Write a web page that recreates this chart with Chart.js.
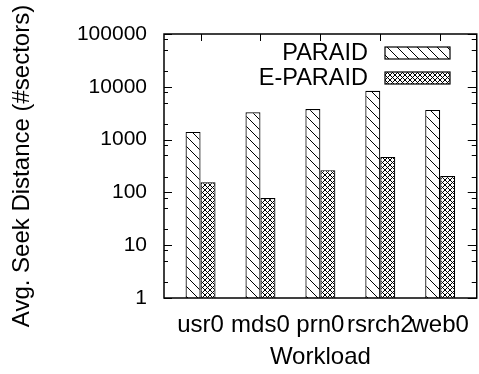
<!DOCTYPE html>
<html lang="en">
<head>
  <meta charset="UTF-8" />
  <title>Avg. Seek Distance per Workload</title>
  <script src="https://cdn.jsdelivr.net/npm/chart.js"></script>
  <style>
    html, body { margin: 0; padding: 0; background: #fff; overflow: hidden; }
    #wrap { width: 479px; height: 374px; overflow: hidden; }
    canvas { display: block; }
  </style>
</head>
<body>
  <div id="wrap"><canvas id="seekChart" width="482" height="374"></canvas></div>

  <script>
    // data
    const workloads = ['usr0', 'mds0', 'prn0', 'rsrch2', 'web0'];
    const paraid = [1400, 3300, 3780, 8400, 3650];
    const eparaid = [156, 78, 264, 470, 205];
    const yTicks = [1, 10, 100, 1000, 10000, 100000];
    const yMinor = [2, 5, 8];

    const FONT = "'Liberation Sans', Arial, Helvetica, sans-serif";

    // gnuplot-like fill patterns
    function hatchPattern() {
      const s = 10;
      const c = document.createElement('canvas');
      c.width = s; c.height = s;
      const g = c.getContext('2d');
      g.fillStyle = '#fff';
      g.fillRect(0, 0, s, s);
      g.strokeStyle = '#000';
      g.lineWidth = 1;
      g.beginPath();
      g.moveTo(-1, -1); g.lineTo(s + 1, s + 1);
      g.moveTo(s - 1, -1); g.lineTo(s + 1, 1);
      g.moveTo(-1, s - 1); g.lineTo(1, s + 1);
      g.stroke();
      return g.createPattern(c, 'repeat');
    }

    function crossPattern() {
      const s = 5;
      const c = document.createElement('canvas');
      c.width = s; c.height = s;
      const g = c.getContext('2d');
      g.fillStyle = '#fff';
      g.fillRect(0, 0, s, s);
      g.strokeStyle = '#000';
      g.lineWidth = 1;
      g.beginPath();
      g.moveTo(-1, -1); g.lineTo(s + 1, s + 1);
      g.moveTo(s + 1, -1); g.lineTo(-1, s + 1);
      g.stroke();
      return g.createPattern(c, 'repeat');
    }

    // frame, inward ticks and the legend
    const gnuplotFrame = {
      id: 'gnuplotFrame',
      afterDatasetsDraw(chart) {
        const { ctx, chartArea: a, scales: { x, y } } = chart;
        ctx.save();
        ctx.strokeStyle = '#000';
        ctx.lineWidth = 1;
        ctx.beginPath();
        yTicks.forEach((v, i) => {
          const py = Math.round(y.getPixelForValue(v)) + 0.5;
          ctx.moveTo(a.left, py); ctx.lineTo(a.left + 8, py);
          ctx.moveTo(a.right, py); ctx.lineTo(a.right - 9, py);
          if (i < yTicks.length - 1) {
            yMinor.forEach(m => {
              const pm = Math.round(y.getPixelForValue(v * m)) + 0.5;
              ctx.moveTo(a.left, pm); ctx.lineTo(a.left + 4, pm);
              ctx.moveTo(a.right, pm); ctx.lineTo(a.right - 5, pm);
            });
          }
        });
        workloads.forEach((w, i) => {
          const px = Math.round(x.getPixelForValue(i)) + 0.5;
          ctx.moveTo(px, a.top); ctx.lineTo(px, a.top + 7);
        });
        ctx.stroke();

        ctx.lineWidth = 1.5;
        ctx.strokeRect(a.left, a.top, a.right - a.left, a.bottom - a.top);

        // legend
        ctx.font = '23.5px ' + FONT;
        ctx.fillStyle = '#000';
        ctx.textAlign = 'right';
        ctx.textBaseline = 'middle';
        chart.data.datasets.forEach((ds, i) => {
          const cy = 53 + i * 25;
          ctx.fillText(ds.label, 368, cy + 1);
          ctx.fillStyle = ds.backgroundColor;
          ctx.fillRect(385, cy - 6, 65, 12);
          ctx.lineWidth = 1.2;
          ctx.strokeRect(385, cy - 6, 65, 12);
          ctx.fillStyle = '#000';
        });
        ctx.restore();
      }
    };

    const ctx = document.getElementById('seekChart').getContext('2d');
    const seekChart = new Chart(ctx, {
      type: 'bar',
      data: {
        datasets: [{
          label: 'PARAID',
          data: workloads.map((w, i) => ({ x: i, y: paraid[i] })),
          backgroundColor: hatchPattern(),
          borderColor: '#000',
          borderWidth: 1.2
        }, {
          label: 'E-PARAID',
          data: workloads.map((w, i) => ({ x: i, y: eparaid[i] })),
          backgroundColor: crossPattern(),
          borderColor: '#000',
          borderWidth: 1.2
        }]
      },
      options: {
        responsive: false,
        animation: false,
        devicePixelRatio: 1,
        categoryPercentage: 0.5,
        barPercentage: 1,
        layout: { padding: { top: 34, right: 1, left: 0, bottom: 0 } },
        plugins: {
          legend: { display: false },
          tooltip: { enabled: false }
        },
        scales: {
          x: {
            type: 'linear',
            min: -0.61,
            max: 4.61,
            offset: false,
            afterBuildTicks: s => { s.ticks = workloads.map((w, i) => ({ value: i })); },
            afterFit: s => { s.height = 76; },
            grid: { display: false, drawTicks: false },
            border: { display: false },
            ticks: {
              padding: 13,
              autoSkip: false,
              maxRotation: 0,
              color: '#000',
              font: { size: 24, family: FONT },
              callback: (v, i) => workloads[i]
            },
            title: {
              display: true,
              text: 'Workload',
              color: '#000',
              font: { size: 24, family: FONT },
              padding: { top: 0, bottom: 2 }
            }
          },
          y: {
            type: 'logarithmic',
            min: 1,
            max: 100000,
            afterBuildTicks: s => { s.ticks = yTicks.map(v => ({ value: v })); },
            afterFit: s => { s.width = 164; },
            grid: { display: false, drawTicks: false },
            border: { display: false },
            ticks: {
              padding: 17,
              color: '#000',
              font: { size: 21, family: FONT },
              callback: v => String(v)
            },
            title: {
              display: true,
              text: 'Avg. Seek Distance (#sectors)',
              color: '#000',
              font: { size: 24, family: FONT },
              padding: { top: 8, bottom: 0 }
            }
          }
        }
      },
      plugins: [gnuplotFrame]
    });
  </script>
</body>
</html>
